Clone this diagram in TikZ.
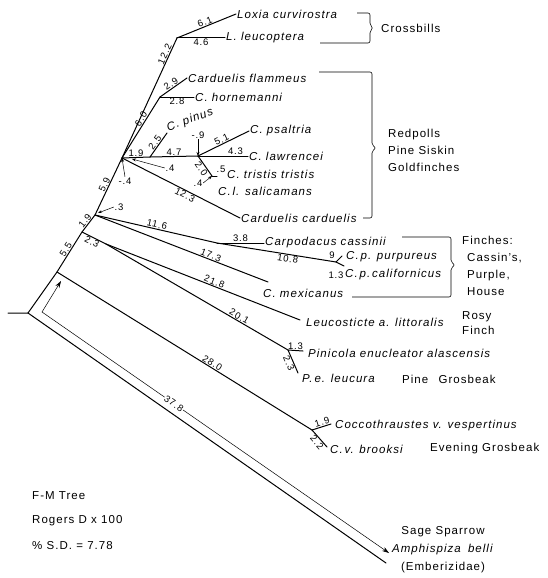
\documentclass[tikz,border=0pt]{standalone}
\usepackage{fontspec}
\setmainfont{Liberation Sans}[LetterSpace=9]
\usepackage{tikz}
\usetikzlibrary{arrows.meta}
\usetikzlibrary{calc}

\begin{document}
\begin{tikzpicture}[x=1pt, y=-1pt,
    branch/.style={line width=1pt, line cap=round},
    leader/.style={line width=0.5pt, -{Stealth[length=4pt, width=3pt]}},
    len/.style={font=\fontsize{9.5}{10}\selectfont, inner sep=0.6pt},
    taxon/.style={font=\fontsize{11.5}{12}\selectfont\itshape, inner sep=1pt, anchor=west},
    group/.style={font=\fontsize{11.5}{17}\selectfont, inner sep=0pt, anchor=west, align=left},
    brace/.style={line width=0.6pt, rounded corners=2pt}]

    \useasboundingbox (0, 0) rectangle (548, 578);

    % internal nodes
    \coordinate (stub) at (8, 313);
    \coordinate (root) at (28, 313);
    \coordinate (nA) at (57, 272);
    \coordinate (n2) at (82, 232);
    \coordinate (n4) at (106, 244);
    \coordinate (n1) at (95, 215);
    \coordinate (n3) at (122, 158);
    \coordinate (cross) at (177, 38);
    \coordinate (flam) at (160, 97);
    \coordinate (n5) at (150, 157);
    \coordinate (gold) at (198, 156);
    \coordinate (tris) at (212, 176);
    \coordinate (carp) at (217, 243);
    \coordinate (purp) at (336, 262);
    \coordinate (pini) at (288, 350);
    \coordinate (cocc) at (312, 430);

    % free branch ends
    \coordinate (pinusEnd) at (167, 133);
    \coordinate (trisEnd) at (217, 176);
    \coordinate (purpEnd) at (342, 256);
    \coordinate (califEnd) at (344, 266);
    \coordinate (mexEnd) at (268, 282);
    \coordinate (leucoEnd) at (300, 320);
    \coordinate (pinEnd) at (303, 351);
    \coordinate (pelEnd) at (298, 373);
    \coordinate (coccEnd) at (331, 424);
    \coordinate (brookEnd) at (327, 447);
    \coordinate (amphEnd) at (386, 563);

    % taxa
    \node [taxon] (loxia) at (236, 14) {Loxia curvirostra};
    \node [taxon] (leucop) at (225, 38) {L. leucoptera};
    \node [taxon] (flammeus) at (187, 78) {Carduelis flammeus};
    \node [taxon] (horne) at (194, 97) {C. hornemanni};
    \node [taxon, anchor=center, rotate=20] (pinus) at (190, 120) {C. pinus};
    \node [taxon] (psaltria) at (249, 131) {C. psaltria};
    \node [taxon] (lawrencei) at (248, 156) {C. lawrencei};
    \node [taxon] (tristis) at (226, 174) {C. tristis tristis};
    \node [taxon] (salica) at (217, 191) {C.\,l. salicamans};
    \node [taxon] (carduelis) at (240, 218) {Carduelis carduelis};
    \node [taxon] (cassinii) at (264, 243) {Carpodacus cassinii};
    \node [taxon] (purpureus) at (345, 257) {C.\,p. purpureus};
    \node [taxon] (californicus) at (344, 275) {C.\,p.\,californicus};
    \node [taxon] (mexicanus) at (262, 293) {C. mexicanus};
    \node [taxon] (leucosticte) at (305, 322) {Leucosticte a. littoralis};
    \node [taxon] (pinicola) at (307, 353) {Pinicola enucleator alascensis};
    \node [taxon] (leucura) at (301, 378) {P.\,e. leucura};
    \node [taxon] (coccoth) at (334, 426) {Coccothraustes v. vespertinus};
    \node [taxon] (brooksi) at (329, 449) {C.\,v. brooksi};

    % trunk
    \draw [branch] (stub) -- (root) -- (nA)
      -- node[len, above, sloped] {5.5} (n2)
      -- node[len, above, sloped] {1.9} (n1)
      -- node[len, above, sloped] {5.9} (n3);

    % crossbills
    \draw [branch] (n3) -- node[len, above, sloped, pos=0.85] {12.2} (cross);
    \draw [branch] (cross) -- node[len, above, sloped] {6.1} (loxia.west);
    \draw [branch] (cross) -- node[len, below] {4.6} (leucop.west);

    % redpolls, siskin, goldfinches
    \draw [branch] (n3) -- node[len, above, sloped, pos=0.6] {6.0} (flam);
    \draw [branch] (flam) -- node[len, above, sloped] {2.9} (flammeus.west);
    \draw [branch] (flam) -- node[len, below] {2.8} (horne.west);
    \draw [branch] (n3) -- node[len, above] {1.9} (n5);
    \draw [branch] (n5) -- node[len, above, sloped] {2.5} (pinusEnd);
    \draw [branch] (n5) -- node[len, above] {4.7} (gold);
    \draw [branch] (gold) -- node[len, above, sloped] {5.1} (psaltria.west);
    \draw [branch] (gold) -- node[len, above, pos=0.75] {4.3} (lawrencei.west);
    \draw [branch] (gold) -- node[len, below, sloped] {2.0} (tris);
    \draw [branch] (tris) -- (trisEnd);
    \node [len] (l5) at (221, 169) {.5};
    \draw [branch] (n3) -- node[len, below, sloped, pos=0.55] {12.3} (carduelis.west);

    % leader arrows for small lengths
    \node [len] (l9) at (198, 135) {-.9};
    \draw [leader] (l9.south) -- (gold);
    \node [len] (l4a) at (125, 181) {-.4};
    \draw [leader] (l4a.north) -- (n3);
    \node [len] (l4b) at (170, 168) {.4};
    \draw [leader] (l4b.west) -- ($(n3)+(10, 1)$);
    \node [len] (l3) at (119, 207) {.3};
    \draw [leader] (l3.west) -- ($(n1)+(3, -2)$);
    \node [len] (l4c) at (198, 183) {.4};
    \draw [leader] (l4c.east) -- (tris);

    % finches
    \draw [branch] (n1) -- node[len, above, sloped] {11.6} (carp);
    \draw [branch] (carp) -- node[len, above] {3.8} (cassinii.west);
    \draw [branch] (carp) -- node[len, below, sloped, pos=0.6] {10.8} (purp);
    \draw [branch] (purp) -- (purpEnd);
    \draw [branch] (purp) -- (califEnd);
    \node [len] (l9b) at (332, 255) {9};
    \node [len] (l13a) at (336, 275) {1.3};
    \draw [branch] (n1) -- node[len, above, sloped, pos=0.66] {17.3} (mexEnd);

    % rosy finch, pine grosbeak
    \draw [branch] (n2) -- node[len, below, sloped] {2.3} (n4);
    \draw [branch] (n4) -- node[len, above, sloped, pos=0.55] {21.8} (leucoEnd);
    \draw [branch] (n4) -- node[len, above, sloped, pos=0.72] {20.1} (pini);
    \draw [branch] (pini) -- node[len, above] {1.3} (pinEnd);
    \draw [branch] (pini) -- node[len, below, sloped] {2.3} (pelEnd);

    % evening grosbeak
    \draw [branch] (nA) -- node[len, above, sloped, pos=0.6] {28.0} (cocc);
    \draw [branch] (cocc) -- node[len, above, sloped, pos=0.6] {1.9} (coccEnd);
    \draw [branch] (cocc) -- node[len, below, sloped, pos=0.55] {2.2} (brookEnd);

    % outgroup
    \draw [branch] (root) -- (amphEnd);
    \coordinate (bend) at (42, 312);
    \coordinate (tipU) at (61, 281);
    \coordinate (tipD) at (389, 553);
    \draw [line width=0.5pt, {Stealth[length=7pt, width=4.5pt]}-{Stealth[length=7pt, width=4.5pt]}]
      (tipU) -- (bend)
      -- node[len, sloped, fill=white, pos=0.38] {37.8} (tipD);
    \node [font=\fontsize{11.5}{18}\selectfont, align=center] (sage) at (443, 550)
      {Sage Sparrow\\\textit{Amphispiza\hspace{3pt} belli}\\(Emberizidae)};

    % brackets and group names
    \draw [brace] (357, 13) -- (370, 13) -- (370, 25) -- (373, 28)
      -- (370, 31) -- (370, 43) -- (320, 43);
    \node [group] (crossbills) at (381, 28) {Crossbills};
    \draw [brace] (319, 72) -- (372, 72) -- (372, 145) -- (376, 148)
      -- (372, 151) -- (372, 218) -- (363, 218);
    \node [group] (redpolls) at (388, 150) {Redpolls\\Pine Siskin\\Goldfinches};
    \draw [brace] (402, 237) -- (451, 237) -- (451, 262) -- (455, 265)
      -- (451, 268) -- (451, 297) -- (352, 297);
    \node [group] (finches) at (462, 266)
      {Finches:\\\hspace*{5pt}Cassin's,\\\hspace*{5pt}Purple,\\\hspace*{5pt}House};
    \node [group, font=\fontsize{11.5}{15}\selectfont] (rosy) at (462, 323) {Rosy\\Finch};
    \node [group] (pinegros) at (402, 379) {Pine\hspace{6pt} Grosbeak};
    \node [group] (evegros) at (430, 449) {Evening Grosbeak};

    % notes
    \foreach \t [count=\i] in {F-M Tree, Rogers D x 100, \% S.D. = 7.78} {
      \node [group] (note\i) at (32, 471 + 25*\i) {\t};
    }

  \end{tikzpicture}
\end{document}
